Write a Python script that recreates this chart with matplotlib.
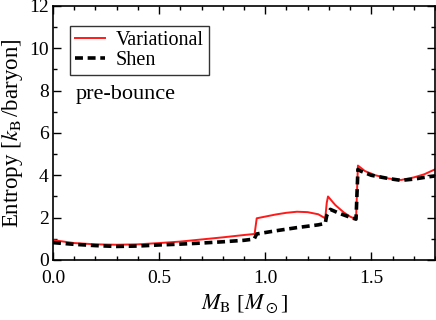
import matplotlib
matplotlib.use("Agg")
import matplotlib.pyplot as plt
from matplotlib.ticker import MultipleLocator

plt.rcParams['font.family'] = ['Liberation Serif', 'DejaVu Serif']
plt.rcParams['mathtext.fontset'] = 'stix'

var_x = [0, 0.1, 0.2, 0.3, 0.4, 0.5, 0.6, 0.7, 0.8, 0.9, 0.95, 0.96, 1.0, 1.05, 1.1, 1.15,
         1.2, 1.25, 1.283, 1.29, 1.296, 1.33, 1.37, 1.40, 1.428, 1.437, 1.47, 1.52, 1.58,
         1.64, 1.70, 1.75, 1.8]
var_y = [0.94, 0.80, 0.74, 0.72, 0.74, 0.80, 0.87, 0.97, 1.07, 1.18, 1.23, 1.97, 2.05, 2.15,
         2.23, 2.28, 2.26, 2.16, 1.97, 2.7, 3.0, 2.6, 2.25, 2.05, 1.92, 4.46, 4.2, 4.0, 3.85,
         3.78, 3.9, 4.05, 4.28]

shen_x = [0, 0.1, 0.2, 0.3, 0.4, 0.5, 0.6, 0.7, 0.8, 0.9, 0.948, 0.96, 1.05, 1.15, 1.25,
          1.283, 1.29, 1.307, 1.35, 1.40, 1.428, 1.437, 1.45, 1.5, 1.58, 1.64, 1.7, 1.75, 1.8]
shen_y = [0.82, 0.74, 0.68, 0.64, 0.66, 0.71, 0.75, 0.80, 0.86, 0.93, 0.99, 1.23, 1.38, 1.53,
          1.66, 1.73, 2.1, 2.39, 2.2, 2.02, 1.93, 4.28, 4.2, 4.0, 3.85, 3.76, 3.82, 3.9, 3.97]

fig = plt.figure(figsize=(4.36, 3.2), dpi=100)
ax = fig.add_axes([0.1216, 0.1875, 0.876, 0.794])

ax.plot(var_x, var_y, color='#ff1a1a', lw=1.4, label='Variational')
ax.plot(shen_x, shen_y, color='black', lw=2.6, ls=(0, (2.2, 1.3)), label='Shen')

ax.set_xlim(0, 1.8)
ax.set_ylim(0, 12)
ax.xaxis.set_major_locator(MultipleLocator(0.5))
ax.xaxis.set_minor_locator(MultipleLocator(0.1))
ax.yaxis.set_major_locator(MultipleLocator(2))
ax.yaxis.set_minor_locator(MultipleLocator(1))
ax.xaxis.set_major_formatter(matplotlib.ticker.FormatStrFormatter('%.1f'))
ax.tick_params(which='both', direction='in', top=True, right=True, labelsize=14)
ax.tick_params(axis='x', which='major', pad=7)
ax.tick_params(axis='y', which='major', pad=3)
ax.tick_params(which='major', length=6, width=1)
ax.tick_params(which='minor', length=3, width=1)
for s in ax.spines.values():
    s.set_linewidth(1.2)

ax.set_xlabel(r'$M_\mathrm{B}$ [$M_\odot$]', fontsize=16, labelpad=4)
ax.set_ylabel(r'Entropy [$k_\mathrm{B}\,$/baryon]', fontsize=16.5, labelpad=3)

leg = ax.legend(loc='upper left', bbox_to_anchor=(0.045, 0.921), fontsize=14.5, frameon=True,
                fancybox=False, edgecolor='black', handlelength=1.5, borderpad=0.25,
                labelspacing=0.05, handletextpad=0.5, borderaxespad=0)
leg.get_frame().set_linewidth(1.0)

ax.text(0.06, 0.65, 'pre-bounce', transform=ax.transAxes, fontsize=16, va='center')

fig.savefig('out.png', dpi=100)
